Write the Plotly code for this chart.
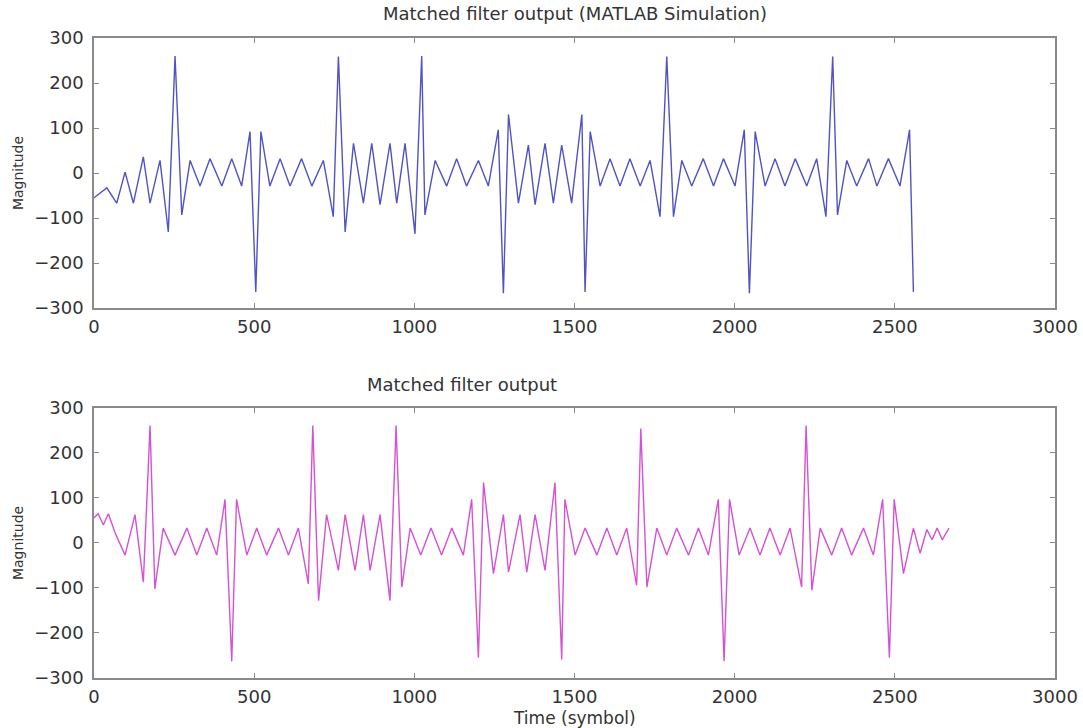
import plotly.graph_objects as go

# ---- Data (polyline vertices) ----
sim_time = [0, 40, 71, 97, 123, 154, 175, 206, 232, 253, 274, 300, 331, 362, 399, 430, 461, 487, 505, 521,
            549, 581, 612, 648, 680, 716, 747, 763, 784, 810, 841, 867, 893, 924, 945, 971, 1002, 1023, 1033,
            1065, 1101, 1132, 1163, 1200, 1231, 1262, 1278, 1294, 1325, 1356, 1377, 1408, 1434, 1460, 1491,
            1523, 1533, 1549, 1580, 1611, 1642, 1673, 1705, 1736, 1767, 1788, 1809, 1835, 1866, 1902, 1934,
            1965, 2001, 2030, 2046, 2064, 2095, 2126, 2157, 2189, 2225, 2256, 2285, 2306, 2321, 2350, 2381,
            2418, 2444, 2480, 2516, 2546, 2558]
sim_mag = [-55, -33, -67, 2, -67, 36, -67, 28, -131, 260, -93, 28, -29, 32, -29, 32, -29, 92, -264, 92,
           -29, 32, -29, 32, -29, 28, -97, 259, -131, 66, -67, 66, -70, 66, -67, 66, -135, 260, -93,
           28, -29, 32, -29, 28, -29, 96, -267, 130, -67, 62, -70, 66, -67, 62, -67,
           130, -264, 92, -29, 32, -29, 32, -29, 28, -97, 259, -97, 28, -29, 32, -29,
           32, -29, 96, -267, 92, -29, 32, -29, 32, -29, 32, -97, 259, -93, 28, -29,
           32, -29, 32, -29, 96, -264]

hw_time = [0, 13, 29, 45, 66, 97, 128, 154, 175, 190, 216, 253, 290, 321, 352, 383, 409, 430, 445, 477,
           508, 539, 576, 607, 638, 669, 683, 701, 726, 763, 784, 815, 841, 862, 893, 924, 943, 961, 987,
           1020, 1052, 1085, 1117, 1153, 1179, 1200, 1216, 1247, 1278, 1294, 1330, 1351, 1377, 1408, 1439,
           1460, 1470, 1502, 1533, 1570, 1601, 1632, 1663, 1694, 1707, 1726, 1757, 1788, 1819, 1856, 1887,
           1918, 1949, 1967, 1984, 2014, 2048, 2079, 2110, 2142, 2173, 2209, 2223, 2241, 2267, 2303, 2334,
           2365, 2402, 2433, 2462, 2483, 2498, 2527, 2558, 2579, 2600, 2616, 2632, 2648, 2669]
hw_mag = [56, 65, 40, 65, 22, -27, 63, -87, 261, -102, 33, -27, 33, -27, 33, -27, 97, -263, 97, -27,
          33, -27, 33, -27, 33, -91, 261, -128, 63, -61, 63, -61, 63, -61, 63, -128, 261, -98, 33,
          -27, 33, -27, 33, -27, 97, -255, 134, -68, 63, -65, 63, -65, 63, -61, 134,
          -259, 97, -27, 33, -27, 33, -27, 33, -94, 254, -98, 33, -27, 33, -27, 33,
          -27, 97, -263, 97, -27, 33, -27, 33, -27, 33, -98, 261, -105, 33, -27, 33,
          -27, 33, -27, 97, -255, 97, -68, 33, -23, 30, 7, 33, 7, 33]

x_ticks = [0, 500, 1000, 1500, 2000, 2500, 3000]
y_ticks = [-300, -200, -100, 0, 100, 200, 300]

FONT = "DejaVu Sans, Liberation Sans, Arial, sans-serif"
TXT = "#333333"

fig = go.Figure()
fig.add_trace(go.Scatter(x=sim_time, y=sim_mag, mode="lines", xaxis="x", yaxis="y",
                         line=dict(color="#5252c4", width=1.4), showlegend=False))
fig.add_trace(go.Scatter(x=hw_time, y=hw_mag, mode="lines", xaxis="x2", yaxis="y2",
                         line=dict(color="#d452d4", width=1.4), showlegend=False))

axis_common = dict(showline=True, linecolor="#8a8a8a", linewidth=1.5, mirror="ticks", ticks="inside",
                   ticklen=5, tickcolor="#8a8a8a", showgrid=False, zeroline=False, automargin=False,
                   tickfont=dict(family=FONT, size=18, color=TXT))

H0, H1 = 0.578, 0.422

fig.update_layout(
    width=1083, height=728,
    margin=dict(l=94, r=28, t=38, b=50),
    paper_bgcolor="white", plot_bgcolor="white",
    font=dict(family=FONT, size=18, color=TXT),
    xaxis=dict(domain=[0, 1], anchor="y", range=[0, 3000], tickvals=x_ticks, ticklabelstandoff=2,
               **axis_common),
    yaxis=dict(domain=[H0, 1], anchor="x", range=[-300, 300], tickvals=y_ticks, ticklabelstandoff=5,
               **axis_common),
    xaxis2=dict(domain=[0, 1], anchor="y2", range=[0, 3000], tickvals=x_ticks, ticklabelstandoff=2,
                **axis_common),
    yaxis2=dict(domain=[0, H1], anchor="x2", range=[-300, 300], tickvals=y_ticks, ticklabelstandoff=5,
                **axis_common),
    annotations=[
        dict(text="Matched filter output (MATLAB Simulation)", xref="paper", yref="paper",
             x=0.5, y=1.0, yshift=25, showarrow=False, xanchor="center", yanchor="middle",
             font=dict(family=FONT, size=18, color=TXT)),
        dict(text="Matched filter output", xref="paper", yref="paper",
             x=0.383, y=H1, yshift=23, showarrow=False, xanchor="center", yanchor="middle",
             font=dict(family=FONT, size=18, color=TXT)),
        dict(text="Magnitude", xref="paper", yref="paper", x=-0.079, y=(H0 + 1) / 2,
             textangle=-90, showarrow=False, xanchor="center", yanchor="middle",
             font=dict(family=FONT, size=14, color=TXT)),
        dict(text="Magnitude", xref="paper", yref="paper", x=-0.079, y=H1 / 2,
             textangle=-90, showarrow=False, xanchor="center", yanchor="middle",
             font=dict(family=FONT, size=14, color=TXT)),
        dict(text="Time (symbol)", xref="paper", yref="paper", x=0.5, y=0, yshift=-40,
             showarrow=False, xanchor="center", yanchor="middle",
             font=dict(family=FONT, size=17, color=TXT)),
    ],
)

fig.write_html("out.html", config={"displayModeBar": False},
               post_script="document.body.style.margin='0';")
